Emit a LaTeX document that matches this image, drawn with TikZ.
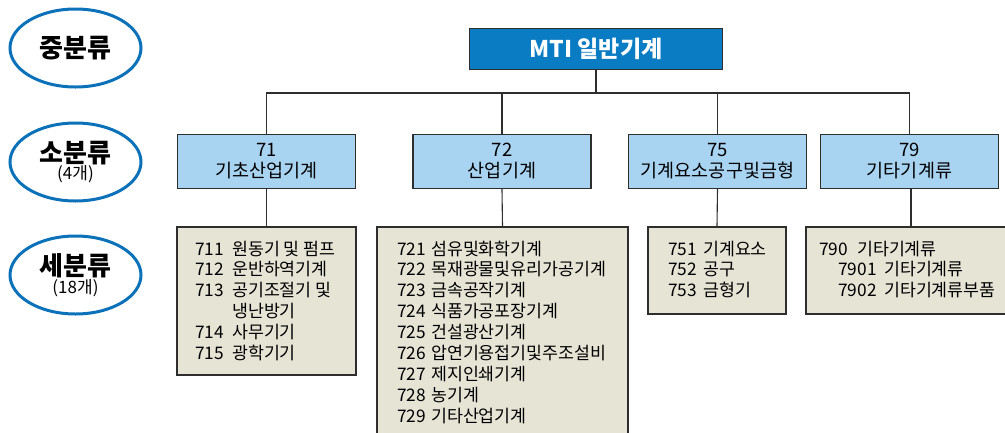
\documentclass[tikz,border=0pt]{standalone}
\usepackage{fontspec}
\setmainfont{Noto Sans CJK KR}
\newfontfamily\kr{Noto Sans CJK KR}
\usetikzlibrary{shapes.geometric}
\definecolor{ellblue}{HTML}{0B72B9}
\definecolor{mtiblue}{HTML}{0A7CC3}
\definecolor{lblue}{HTML}{A8D3F1}
\definecolor{beige}{HTML}{E6E4D5}
\definecolor{edgec}{HTML}{2E2E2E}
\tikzset{
  lvl/.style={draw=ellblue, line width=3pt, ellipse, minimum width=131pt, minimum height=78pt, inner sep=0pt, align=center},
  mtibox/.style={draw=edgec, line width=1.2pt, fill=mtiblue, minimum width=253pt, minimum height=41pt, inner sep=0pt, text=white, font=\bfseries\fontsize{23}{26}\selectfont},
  midbox/.style={draw=edgec, line width=1.2pt, fill=lblue, minimum width=178pt, minimum height=54pt, inner sep=0pt, align=center, font=\kr\fontsize{18.5}{21}\selectfont},
  subbox/.style={draw=edgec, line width=1.2pt, fill=beige, inner sep=0pt},
  subtext/.style={anchor=north west, inner sep=0pt, align=left, font=\kr\fontsize{17.3}{20.9}\selectfont},
  conn/.style={draw=edgec, line width=1.1pt},
}
\begin{document}
\begin{tikzpicture}[x=1pt,y=-1pt]
\path[use as bounding box] (0,0) rectangle (1005,432);
\clip (0,0) rectangle (1005,432);
% level labels
\node[lvl] (l1) at (75.5,48) {\bfseries\fontsize{26}{28}\selectfont 중분류};
\node[lvl] (l2) at (75.5,162) {\bfseries\fontsize{26}{28}\selectfont 소분류\\\mdseries\fontsize{17}{21}\selectfont (4개)};
\node[lvl] (l3) at (75.5,275) {\bfseries\fontsize{26}{28}\selectfont 세분류\\\mdseries\fontsize{17}{21}\selectfont (18개)};
% top
\node[mtibox] (mti) at (596,49) {MTI 일반기계};
% level 2
\node[midbox] (b71) at (266.5,161.5) {71\\기초산업기계};
\node[midbox] (b72) at (502,161.5) {72\\산업기계};
\node[midbox] (b75) at (717.5,161.5) {75\\기계요소공구및금형};
\node[midbox] (b79) at (909.5,161.5) {79\\기타기계류};
% level 3 boxes
\node[subbox, minimum width=179pt, minimum height=148pt] (b711) at (266.5,301) {};
\node[subbox, minimum width=251pt, minimum height=230pt] (b721) at (502.5,342) {};
\node[subbox, minimum width=138pt, minimum height=87pt] (b751) at (717,270.5) {};
\node[subbox, minimum width=210pt, minimum height=87pt] (b790) at (911,270.5) {};
% connectors
\coordinate (bus) at (0,93);
\draw[conn] (mti.south) -- (mti.south |- bus);
\draw[conn] (b71.north) -- (b71.north |- bus) -- (b79.north |- bus) -- (b79.north);
\draw[conn] (b72.north) -- (b72.north |- bus);
\draw[conn] (b75.north) -- (b75.north |- bus);
\draw[conn] (b71.south) -- (b711.north);
\draw[conn] (b72.south) -- (b721.north);
\draw[conn] (b75.south) -- (b751.north);
\draw[conn] (b79.south -| b790.north) -- (b790.north);
% texts
\node[subtext] (t711) at (195,240.5) {\makebox[37pt][l]{711}원동기 및 펌프\\
\makebox[37pt][l]{712}운반하역기계\\
\makebox[37pt][l]{713}공기조절기 및\\
\hspace*{37pt}냉난방기\\
\makebox[37pt][l]{714}사무기기\\
\makebox[37pt][l]{715}광학기기};
\node[subtext] (t721) at (397,240.5) {\makebox[34pt][l]{721}섬유및화학기계\\
\makebox[34pt][l]{722}목재광물및유리가공기계\\
\makebox[34pt][l]{723}금속공작기계\\
\makebox[34pt][l]{724}식품가공포장기계\\
\makebox[34pt][l]{725}건설광산기계\\
\makebox[34pt][l]{726}압연기용접기및주조설비\\
\makebox[34pt][l]{727}제지인쇄기계\\
\makebox[34pt][l]{728}농기계\\
\makebox[34pt][l]{729}기타산업기계};
\node[subtext] (t751) at (668,240.5) {\makebox[35pt][l]{751}기계요소\\
\makebox[35pt][l]{752}공구\\
\makebox[35pt][l]{753}금형기};
\node[subtext] (t790) at (819,240.5) {\makebox[38pt][l]{790}기타기계류\\
\hspace*{19pt}\makebox[46pt][l]{7901}기타기계류\\
\hspace*{19pt}\makebox[46pt][l]{7902}기타기계류부품};
\end{tikzpicture}
\end{document}
